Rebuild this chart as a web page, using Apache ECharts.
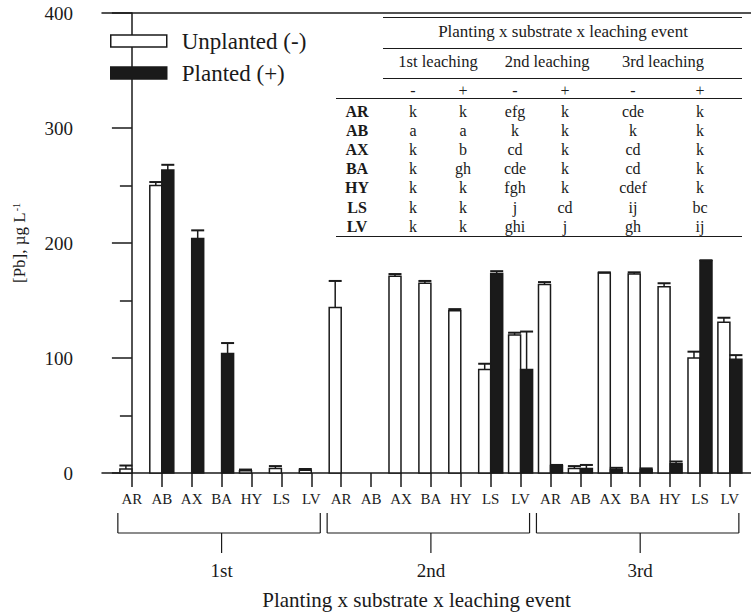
<!DOCTYPE html>
<html>
<head>
<meta charset="utf-8">
<title>[Pb] by planting, substrate and leaching event</title>
<script src="https://cdn.jsdelivr.net/npm/echarts@6/dist/echarts.min.js"></script>
<style>
  html, body { margin: 0; padding: 0; background: #fff; }
  #chart { width: 751px; height: 614px; }
</style>
</head>
<body>
<div id="chart"></div>
<script>
  /** substrates, repeated for every leaching event */
  var substrates = ['AR', 'AB', 'AX', 'BA', 'HY', 'LS', 'LV']
  var events = ['1st', '2nd', '3rd']
  var categories = substrates.concat(substrates, substrates)

  /** [Pb] means and the upper error (ug/L), 1st..3rd event */
  var unplanted = [3.5, 250, 0, 0, 2, 4, 2.5, 144, 0, 171, 165, 141, 90, 120, 164, 4, 174, 173, 162, 100, 131]
  var unplantedErr = [3, 3, 0, 0, 1, 2, 1, 23, 0, 2, 2, 1.5, 5, 2, 2, 2, 0.5, 1.5, 3, 5.5, 4]
  var planted = [0, 263.5, 204, 104, 0, 0, 0, 0, 0, 0, 0, 0, 173.5, 90, 6.5, 4, 3, 3, 8, 184.5, 99]
  var plantedErr = [0, 4.5, 7, 9, 0, 0, 0, 0, 0, 0, 0, 0, 2, 33, 0.5, 3, 1.5, 1, 2, 0.5, 3.5]

  /** significance letters */
  var tableTitle = 'Planting x substrate x leaching event'
  var tableEvents = ['1st leaching', '2nd leaching', '3rd leaching']
  var tableSigns = ['-', '+', '-', '+', '-', '+']
  var tableLetters = [
    ['k', 'k', 'efg', 'k', 'cde', 'k'],
    ['a', 'a', 'k', 'k', 'k', 'k'],
    ['k', 'b', 'cd', 'k', 'cd', 'k'],
    ['k', 'gh', 'cde', 'k', 'cd', 'k'],
    ['k', 'k', 'fgh', 'k', 'cdef', 'k'],
    ['k', 'k', 'j', 'cd', 'ij', 'bc'],
    ['k', 'k', 'ghi', 'j', 'gh', 'ij']
  ]

  var FONT = '"Liberation Serif", "DejaVu Serif", serif'
  var INK = '#1a1a1a'
  var BAR_W = 12

  function toData(vals, errs) {
    return vals.map(function (v, i) { return [i, v, errs[i]] })
  }

  // side -1 = left of the tick, +1 = right of it
  function renderBar(side, fill) {
    return function (params, api) {
      var v = api.value(1)
      var e = api.value(2)
      if (!v) return null
      var base = api.coord([api.value(0), 0])
      var top = api.coord([api.value(0), v])
      var left = side < 0 ? base[0] - BAR_W : base[0]
      var children = [{
        type: 'rect',
        shape: { x: left, y: top[1], width: BAR_W, height: base[1] - top[1] },
        style: { fill: fill, stroke: INK, lineWidth: 1.5 }
      }]
      if (e) {
        var hi = api.coord([api.value(0), v + e])
        var cx = left + BAR_W / 2
        children.push(
          { type: 'line', shape: { x1: cx, y1: top[1], x2: cx, y2: hi[1] }, style: { stroke: INK, lineWidth: 1.5 } },
          { type: 'line', shape: { x1: cx - BAR_W / 2 - 0.5, y1: hi[1], x2: cx + BAR_W / 2 + 0.5, y2: hi[1] }, style: { stroke: INK, lineWidth: 2 } }
        )
      }
      return { type: 'group', children: children }
    }
  }

  var chart = echarts.init(document.getElementById('chart'), null, { renderer: 'svg' })

  var idx = categories.map(function (c, i) { return i })

  chart.setOption({
    backgroundColor: '#fff',
    animation: false,
    textStyle: { fontFamily: FONT, color: INK },
    grid: { left: 102, right: 0, top: 13, bottom: 141, outerBoundsMode: 'none' },
    legend: {
      orient: 'vertical',
      left: 110,
      top: 29,
      padding: 0,
      itemWidth: 56,
      itemHeight: 12,
      itemGap: 8,
      icon: 'rect',
      selectedMode: false,
      textStyle: { fontFamily: FONT, fontSize: 23, lineHeight: 24, color: INK, padding: [0, 0, 0, 10] },
      data: [
        { name: 'Unplanted (-)', itemStyle: { color: '#fff', borderColor: INK, borderWidth: 1.5 } },
        { name: 'Planted (+)', itemStyle: { color: INK, borderColor: INK, borderWidth: 1.5 } }
      ]
    },
    xAxis: [{
      type: 'value',
      min: -1,
      max: 20.706,
      interval: 1,
      splitLine: { show: false },
      axisLine: { lineStyle: { color: INK, width: 1.5 } },
      axisTick: { customValues: idx, length: 14, lineStyle: { color: INK, width: 1.5 } },
      axisLabel: {
        customValues: idx,
        margin: 18,
        fontFamily: FONT,
        fontSize: 15,
        color: INK,
        formatter: function (v) { return categories[v] || '' }
      },
      name: 'Planting x substrate x leaching event',
      nameLocation: 'middle',
      nameGap: 116,
      nameTextStyle: { fontFamily: FONT, fontSize: 21, color: INK, padding: [0, 20, 0, 0] }
    }, {
      type: 'value',
      position: 'top',
      min: -1,
      max: 20.706,
      splitLine: { show: false },
      axisLine: { lineStyle: { color: INK, width: 1.5 } },
      axisTick: { show: false },
      axisLabel: { show: false }
    }],
    yAxis: {
      type: 'value',
      min: 0,
      max: 400,
      interval: 100,
      splitLine: { show: false },
      axisLine: { show: true, lineStyle: { color: INK, width: 1.5 } },
      axisTick: { show: true, length: 20, lineStyle: { color: INK, width: 1.5 } },
      minorTick: { show: true, splitNumber: 2, length: 12, lineStyle: { color: INK, width: 1.5 } },
      axisLabel: { margin: 29, fontFamily: FONT, fontSize: 19, color: INK },
      name: '{a|[Pb], µg L}{s|-1}',
      nameLocation: 'middle',
      nameGap: 74,
      nameTextStyle: {
        rich: {
          a: { fontFamily: FONT, fontSize: 17, color: INK },
          s: { fontFamily: FONT, fontSize: 10, color: INK, verticalAlign: 'top', padding: [0, 0, 0, 1] }
        }
      }
    },
    series: [{
      name: 'Unplanted (-)',
      type: 'custom',
      itemStyle: { color: '#fff', borderColor: INK, borderWidth: 1.5 },
      renderItem: renderBar(-1, '#fff'),
      data: toData(unplanted, unplantedErr)
    }, {
      name: 'Planted (+)',
      type: 'custom',
      itemStyle: { color: INK, borderColor: INK, borderWidth: 1.5 },
      renderItem: renderBar(1, INK),
      data: toData(planted, plantedErr)
    }]
  })

  /** brackets under each leaching event and the significance table */
  function px(i) {
    return chart.convertToPixel({ xAxisIndex: 0, yAxisIndex: 0 }, [i, 0])
  }
  function txt(x, y, s, size, weight) {
    return {
      type: 'text', x: x, y: y, silent: true,
      style: {
        text: s, fontFamily: FONT, fontSize: size, fontWeight: weight || 'normal', fill: INK,
        align: 'center', verticalAlign: 'middle', textAlign: 'center', textVerticalAlign: 'middle'
      }
    }
  }
  function line(x1, y1, x2, y2, w) {
    return { type: 'line', silent: true, shape: { x1: x1, y1: y1, x2: x2, y2: y2 }, style: { stroke: INK, lineWidth: w || 1.2 } }
  }

  var elements = []
  var axisY = px(0)[1]
  events.forEach(function (ev, g) {
    var x0 = px(g * 7 - 0.47)[0]
    var x1 = px(g * 7 + 6.3)[0]
    var xc = px(g * 7 + 3)[0]
    elements.push(
      line(x0, axisY + 40, x0, axisY + 60),
      line(x1, axisY + 40, x1, axisY + 60),
      line(x0, axisY + 60, x1, axisY + 60),
      line(xc, axisY + 60, xc, axisY + 80),
      txt(xc, axisY + 97, ev, 19)
    )
  })

  var colX = [413, 463, 515, 565, 633, 700]
  var spanX = [438, 547, 663]
  var rowY0 = 111
  var rowStep = 19.2
  elements.push(
    line(383, 17.5, 742, 17.5),
    txt(563, 31, tableTitle, 17),
    line(383, 48.5, 742, 48.5),
    line(383, 78.5, 742, 78.5),
    line(336, 98.5, 742, 98.5),
    line(336, 236.5, 742, 236.5)
  )
  tableEvents.forEach(function (s, i) { elements.push(txt(spanX[i], 61, s, 16.5)) })
  tableSigns.forEach(function (s, i) { elements.push(txt(colX[i], 90, s, 16)) })
  substrates.forEach(function (s, r) {
    var y = rowY0 + r * rowStep
    elements.push(txt(357, y, s, 16, 'bold'))
    tableLetters[r].forEach(function (l, c) { elements.push(txt(colX[c], y, l, 16)) })
  })

  chart.setOption({ graphic: { elements: elements } })
</script>
</body>
</html>
